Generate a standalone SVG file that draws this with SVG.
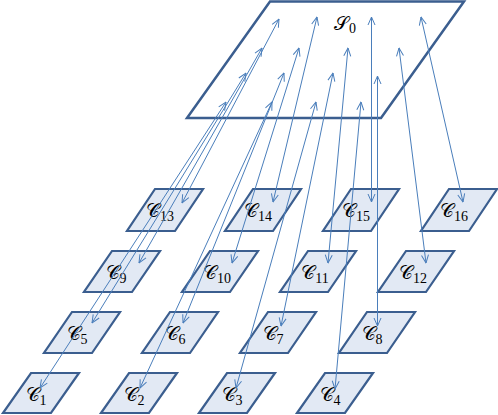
<svg xmlns="http://www.w3.org/2000/svg" width="498" height="415" viewBox="0 0 498 415">
<style>
.big{fill:#ffffff;stroke:#3B5E8F;stroke-width:2.5;stroke-linejoin:miter}
.box{fill:#E2E9F4;stroke:#3B5E8F;stroke-width:2.2;stroke-linejoin:miter}
.c{stroke:#4A7EBB;stroke-width:1;fill:none;marker-start:url(#ah);marker-end:url(#ah)}
.lab{font-family:"DejaVu Serif","Liberation Serif",serif;font-size:19px;fill:#000;text-anchor:middle}
.sub{font-family:"Liberation Serif",serif;font-size:14px}
</style>
<defs>
<marker id="ah" viewBox="0 0 10 10" refX="9.5" refY="5" markerWidth="10" markerHeight="10" markerUnits="userSpaceOnUse" orient="auto-start-reverse">
<path d="M1.5,1.5 L9.5,5 L1.5,8.5" fill="none" stroke="#4A7EBB" stroke-width="1"/>
</marker>
</defs>
<g id="S0">
<polygon class="big" points="270,1.5 464,1.5 381,118 187,118"/>
<text class="lab" x="345" y="30" font-size="21">𝒮<tspan class="sub" font-size="15" dy="3">0</tspan></text>
</g>
<g id="C13"><polygon class="box" points="155,189 203,189 175,231 127,231"/><text class="lab" x="160" y="217">𝒞<tspan class="sub" dy="4">13</tspan></text></g>
<g id="C14"><polygon class="box" points="253,189 301,189 273,231 225,231"/><text class="lab" x="258" y="217">𝒞<tspan class="sub" dy="4">14</tspan></text></g>
<g id="C15"><polygon class="box" points="351,189 399,189 371,231 323,231"/><text class="lab" x="356" y="217">𝒞<tspan class="sub" dy="4">15</tspan></text></g>
<g id="C16"><polygon class="box" points="449,189 497,189 469,231 421,231"/><text class="lab" x="454" y="217">𝒞<tspan class="sub" dy="4">16</tspan></text></g>
<g id="C9"><polygon class="box" points="112,251 160,251 132,292 84,292"/><text class="lab" x="116" y="279">𝒞<tspan class="sub" dy="4">9</tspan></text></g>
<g id="C10"><polygon class="box" points="210,251 258,251 230,292 182,292"/><text class="lab" x="217" y="279">𝒞<tspan class="sub" dy="4">10</tspan></text></g>
<g id="C11"><polygon class="box" points="308,251 356,251 328,292 280,292"/><text class="lab" x="315" y="279">𝒞<tspan class="sub" dy="4">11</tspan></text></g>
<g id="C12"><polygon class="box" points="406,251 454,251 426,292 378,292"/><text class="lab" x="413" y="279">𝒞<tspan class="sub" dy="4">12</tspan></text></g>
<g id="C5"><polygon class="box" points="72,312 120,312 92,353 44,353"/><text class="lab" x="77" y="340">𝒞<tspan class="sub" dy="4">5</tspan></text></g>
<g id="C6"><polygon class="box" points="170,312 218,312 190,353 142,353"/><text class="lab" x="175" y="340">𝒞<tspan class="sub" dy="4">6</tspan></text></g>
<g id="C7"><polygon class="box" points="268,312 316,312 288,353 240,353"/><text class="lab" x="273" y="340">𝒞<tspan class="sub" dy="4">7</tspan></text></g>
<g id="C8"><polygon class="box" points="367,312 415,312 387,353 339,353"/><text class="lab" x="372" y="340">𝒞<tspan class="sub" dy="4">8</tspan></text></g>
<g id="C1"><polygon class="box" points="31,373 79,373 51,413 3,413"/><text class="lab" x="36" y="401">𝒞<tspan class="sub" dy="4">1</tspan></text></g>
<g id="C2"><polygon class="box" points="129,373 177,373 149,413 101,413"/><text class="lab" x="134" y="401">𝒞<tspan class="sub" dy="4">2</tspan></text></g>
<g id="C3"><polygon class="box" points="227,373 275,373 247,413 199,413"/><text class="lab" x="232" y="401">𝒞<tspan class="sub" dy="4">3</tspan></text></g>
<g id="C4"><polygon class="box" points="325,373 373,373 345,413 297,413"/><text class="lab" x="330" y="401">𝒞<tspan class="sub" dy="4">4</tspan></text></g>
<g id="connectors">
<line class="c" x1="226" y1="102" x2="40" y2="388"/>
<line class="c" x1="272" y1="102" x2="140" y2="388"/>
<line class="c" x1="316" y1="102" x2="236" y2="388"/>
<line class="c" x1="361" y1="102" x2="335" y2="389"/>
<line class="c" x1="246" y1="73" x2="92" y2="323"/>
<line class="c" x1="284" y1="73" x2="183" y2="323"/>
<line class="c" x1="333" y1="73" x2="281" y2="326"/>
<line class="c" x1="377.5" y1="76" x2="377.5" y2="326"/>
<line class="c" x1="262" y1="48" x2="139" y2="263"/>
<line class="c" x1="299" y1="48" x2="232" y2="263"/>
<line class="c" x1="348" y1="48" x2="328" y2="263"/>
<line class="c" x1="399" y1="48" x2="426" y2="263"/>
<line class="c" x1="279" y1="19" x2="182" y2="203"/>
<line class="c" x1="317" y1="17" x2="273" y2="202"/>
<line class="c" x1="371.5" y1="17" x2="371.5" y2="202"/>
<line class="c" x1="421" y1="17" x2="463" y2="202"/>
</g>
</svg>
